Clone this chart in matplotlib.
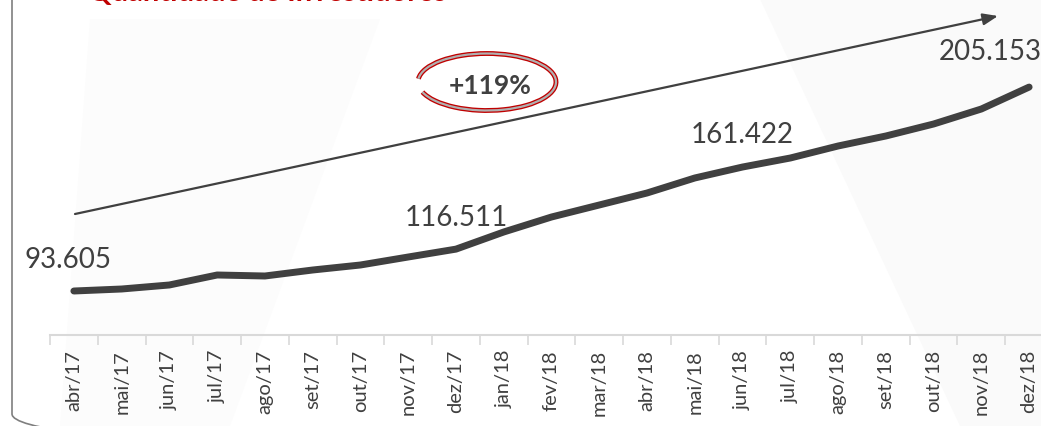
import matplotlib.pyplot as plt
from matplotlib.patches import FancyBboxPatch, Arc, Polygon

plt.rcParams['font.family'] = ['Lato', 'DejaVu Sans']

meses = ["abr/17", "mai/17", "jun/17", "jul/17", "ago/17", "set/17", "out/17",
         "nov/17", "dez/17", "jan/18", "fev/18", "mar/18", "abr/18", "mai/18",
         "jun/18", "jul/18", "ago/18", "set/18", "out/18", "nov/18", "dez/18"]
investidores = [93605, 94700, 96900, 102360, 101810, 105090, 107830,
                112200, 116511, 125880, 134080, 140650, 147210, 155420,
                161422, 166350, 172920, 178390, 184950, 193160, 205153]
rotulos = {0: "93.605", 8: "116.511", 14: "161.422", 20: "205.153"}
variacao = "+119%"
titulo = "Quantidade de Investidores"

W, H = 1041, 427
fig = plt.figure(figsize=(W / 100, H / 100), dpi=100)
fig.patch.set_facecolor("white")

# faint watermark shapes in the background
bg = fig.add_axes([0, 0, 1, 1], zorder=-5)
bg.set_xlim(0, W)
bg.set_ylim(H, 0)
bg.axis("off")
bg.add_patch(Polygon([[90, 20], [380, 20], [230, 427], [60, 427]],
                     closed=True, fc="#fcfcfc", ec="none"))
bg.add_patch(Polygon([[760, 0], [1041, 0], [1041, 427], [960, 427]],
                     closed=True, fc="#fafafa", ec="none"))
# rounded frame
bg.add_patch(FancyBboxPatch((12, -60), 1200, 520,
                            boxstyle="round,pad=0,rounding_size=45",
                            fc="none", ec="#7f7f7f", lw=1.2))

left, right_px, axis_y = 50, 1053, 336
ax = fig.add_axes([left / W, (H - axis_y) / H, (right_px - left) / W, axis_y / H])
ax.set_facecolor("none")

x = list(range(len(meses)))
ax.plot(x, investidores, color="#404040", lw=5, solid_capstyle="round",
        solid_joinstyle="round", zorder=3)

ax.set_xlim(-0.5, len(meses) - 0.5)
ax.set_ylim(69537, 253329)

for s in ["top", "right", "left"]:
    ax.spines[s].set_visible(False)
ax.spines["bottom"].set_color("#d9d9d9")
ax.spines["bottom"].set_linewidth(1.5)
ax.set_yticks([])
ax.set_xticks(x)
ax.set_xticklabels(meses, rotation=90, fontsize=14.5, color="#404040")
ax.tick_params(axis="x", which="major", length=0, pad=10)
ax.set_xticks([i - 0.5 for i in range(len(meses) + 1)], minor=True)
ax.tick_params(axis="x", which="minor", length=7, color="#d9d9d9", width=1.2)

offsets = {0: (-4, 23), 8: (0, 23), 14: (0, 24), 20: (-28, 26)}
for i, txt in rotulos.items():
    ax.annotate(txt, (i, investidores[i]), xytext=offsets[i],
                textcoords="offset points", ha="center", va="center",
                fontsize=20, color="#404040")

# trend arrow
ax.annotate("", xy=((998 - left) / 1003, (axis_y - 17) / axis_y),
            xytext=((75 - left) / 1003, (axis_y - 215) / axis_y),
            xycoords="axes fraction", textcoords="axes fraction",
            arrowprops=dict(arrowstyle="-|>,head_length=0.9,head_width=0.35",
                            color="#404040", lw=1.6, shrinkA=0, shrinkB=0))

# circled growth figure
cx, cy = (487 - left) / 1003, (axis_y - 83) / axis_y
ax.text(cx + 0.003, (axis_y - 86) / axis_y, variacao, transform=ax.transAxes,
        ha="center", va="center", fontsize=19, fontweight="bold", color="#404040")
for lw, col in [(3.5, "#c00000"), (1.6, "#b0b0b0")]:
    ax.add_patch(Arc((cx, cy), 138 / 1003, 57 / axis_y, theta1=205, theta2=172,
                     transform=ax.transAxes, color=col, lw=lw, zorder=4))

fig.text(88 / W, (H - 1) / H, titulo, ha="left", va="baseline",
         fontsize=21, fontweight="bold", color="#c00000")

fig.savefig("out.png", dpi=100)
